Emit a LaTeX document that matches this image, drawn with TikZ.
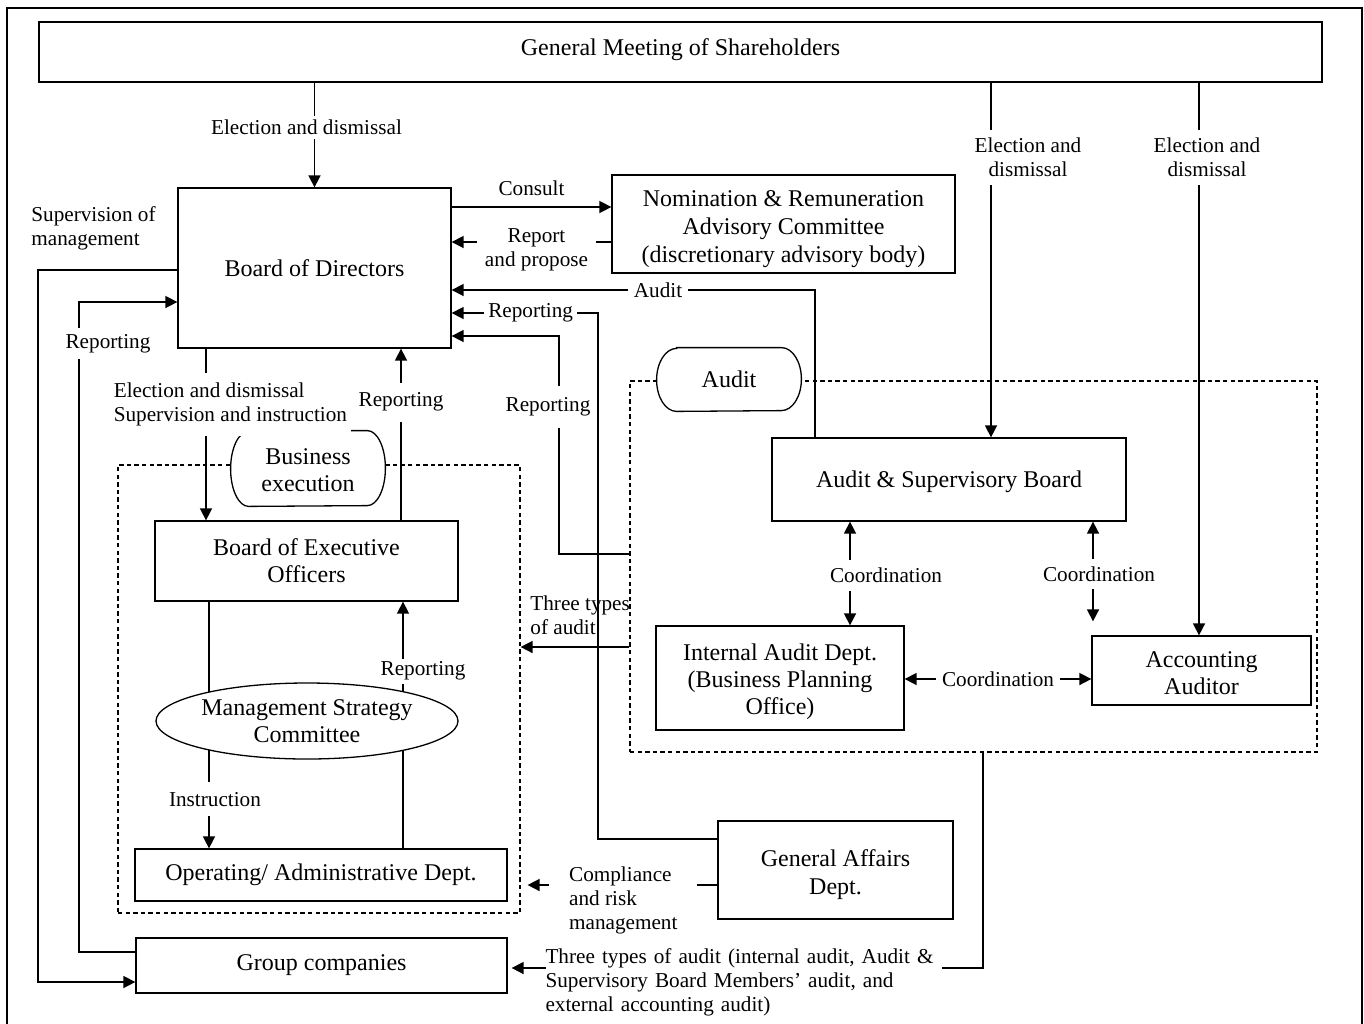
\documentclass[tikz,border=0pt]{standalone}
\usepackage{fontspec}
\setmainfont{Liberation Serif}
\usetikzlibrary{arrows.meta,shapes.geometric,calc}
\newcommand\bxfont{\fontsize{12}{13.5}\selectfont}
\newcommand\lbfont{\fontsize{10.6}{12}\selectfont}
\begin{document}
\begin{tikzpicture}[x=0.5pt,y=-0.5pt,
  box/.style={draw, line width=0.65pt, align=center, inner sep=0pt, font=\bxfont},
  arr/.style={line width=0.8pt, -{Triangle[length=6pt,width=6pt]}},
  darr/.style={line width=0.8pt, {Triangle[length=6pt,width=6pt]}-{Triangle[length=6pt,width=6pt]}},
  ln/.style={line width=0.8pt},
  lab/.style={fill=white, align=center, inner xsep=2pt, inner ysep=3pt, font=\lbfont},
  txt/.style={align=left, inner sep=0pt, font=\lbfont},
  dbox/.style={draw, line width=0.6pt, dash pattern=on 2.2pt off 1.6pt, inner sep=0pt},
  tag/.style={fill=white, font=\bxfont, align=center, inner sep=0pt},
]
\useasboundingbox (0,0) rectangle (1364,1023);
\draw[line width=0.8pt] (7,1030) -- (7,8) -- (1362,8) -- (1362,1030);

% dashed areas
\node[dbox, minimum width=201pt, minimum height=224pt] (busarea) at (319,689) {};
\node[dbox, minimum width=343.5pt, minimum height=185.5pt] (audarea) at (973.5,566.5) {};

% tags
\node[tag, minimum width=77pt, minimum height=37.5pt] (be) at (308,468.5) {};
\draw[line width=0.65pt] ([xshift=9pt]be.north west) -- ([xshift=-9pt]be.north east)
  arc[start angle=90,end angle=-90,x radius=9pt,y radius=18.75pt]
  -- ([xshift=9pt]be.south west)
  arc[start angle=270,end angle=90,x radius=9pt,y radius=18.75pt] -- cycle;
\node[font=\bxfont, align=center, inner sep=0pt] at ([yshift=-1pt]be.center) {Business\\execution};

\node[tag, minimum width=72pt, minimum height=31.5pt] (audtag) at (729,379.5) {};
\draw[line width=0.65pt] ([xshift=10pt]audtag.north west) -- ([xshift=-10pt]audtag.north east)
  arc[start angle=90,end angle=-90,x radius=10pt,y radius=15.75pt]
  -- ([xshift=10pt]audtag.south west)
  arc[start angle=270,end angle=90,x radius=10pt,y radius=15.75pt] -- cycle;
\node[font=\bxfont, inner sep=0pt] at (audtag) {Audit};

% boxes
\node[box, minimum width=641.5pt, minimum height=30pt] (gm) at (680.5,52) {\raisebox{1pt}[\height][\depth]{General Meeting of Shareholders}};
\node[box, minimum width=136.5pt, minimum height=80pt] (bod) at (314.5,268) {Board of Directors};
\node[box, minimum width=171.5pt, minimum height=49pt, font=\fontsize{12}{14}\selectfont] (nrac) at (783.5,224) {\rule{0pt}{13pt}Nomination \& Remuneration\\Advisory Committee\\(discretionary advisory body)};
\node[box, minimum width=177pt, minimum height=41.5pt] (asb) at (949,479.5) {\rule{0pt}{11pt}Audit \& Supervisory Board};
\node[box, minimum width=124pt, minimum height=52pt] (iad) at (780,678) {\rule{0pt}{12.5pt}Internal Audit Dept.\\(Business Planning\\Office)};
\node[box, minimum width=109.5pt, minimum height=34.5pt] (aa) at (1201.5,670.5) {\rule{0pt}{11pt}Accounting\\Auditor};
\node[box, minimum width=151.5pt, minimum height=40pt] (boeo) at (306.5,561) {Board of Executive\\Officers};
\node[box, ellipse, minimum width=151pt, minimum height=38pt] (msc) at (307,721) {Management Strategy\\Committee};
\node[box, minimum width=186pt, minimum height=26pt] (op) at (321,875) {Operating/ Administrative Dept.};
\node[box, minimum width=185.5pt, minimum height=27.5pt] (gc) at (321.5,965.5) {Group companies};
\node[box, minimum width=117.5pt, minimum height=49pt, font=\fontsize{12}{14}\selectfont] (ga) at (835.5,870) {\rule{0pt}{13.2pt}General Affairs\\Dept.};

% ellipse contact points
\coordinate (m1) at (209,692);
\coordinate (m2) at (209,750);
\coordinate (m3) at (403,692);
\coordinate (m4) at (403,750);

% connectors
\draw[arr] (bod.north |- gm.south) -- (bod.north)
  node[lab, pos=0.43, xshift=-4pt, inner ysep=2pt]{Election and dismissal};

\draw[arr] (bod.east |- 0,207) -- (nrac.west |- 0,207)
  node[midway, yshift=9.5pt, font=\lbfont, inner sep=0pt]{Consult};

\draw[arr] (nrac.west |- 0,242) -- (bod.east |- 0,242)
  node[lab, midway, xshift=2.5pt, yshift=-4pt, inner xsep=4pt, inner ysep=1pt]{Report\\and propose};

\draw[arr] (asb.north -| 815,0) |- (bod.east |- 0,290)
  node[lab, pos=0.716, inner xsep=3pt, inner ysep=1pt]{Audit};

\draw[arr] (ga.west |- 0,839) -| (598,313) -- (bod.east |- 0,313)
  node[lab, pos=0.46, inner ysep=1pt]{Reporting};

\draw[arr] (audarea.west |- 0,554) -| node[lab, pos=0.837, xshift=-5.5pt, inner ysep=6pt]{Reporting} (559,336) -- (bod.east |- 0,336);

\draw[arr] (bod.west |- 0,270) -| (38,982) -- (gc.west |- 0,982);
\node[txt, anchor=west] (supmg) at (31,228) {Supervision of\\management};

\draw[arr] (gc.west |- 0,952) -| node[lab, pos=0.968, xshift=14.5pt, inner ysep=3pt]{Reporting} (79,302) -- (bod.west |- 0,302);

\draw[arr] (bod.south -| 206,0) -- (boeo.north -| 206,0)
  node[lab, align=left, anchor=west, pos=0.324, xshift=-48.5pt, inner ysep=5pt]{Election and dismissal\\Supervision and instruction};

\draw[arr] (boeo.north -| 401,0) -- (bod.south -| 401,0)
  node[lab, pos=0.688, inner ysep=5pt]{Reporting};

\draw[ln] (boeo.south -| m1) -- (m1);
\draw[arr] (m2) -- (op.north -| m2)
  node[lab, midway, xshift=3pt, inner ysep=5pt]{Instruction};
\draw[ln] (op.north -| m4) -- (m4);
\draw[arr] (m3) -- (boeo.south -| m3)
  node[lab, pos=0.23, xshift=10pt, inner ysep=1.5pt]{Reporting};

\draw[darr] (asb.south -| 850,0) -- (iad.north -| 850,0)
  node[lab, pos=0.52, xshift=18pt, inner ysep=4pt]{Coordination};
\draw[darr, shorten >=7pt] (asb.south -| 1093,0) -- (aa.north -| 1093,0)
  node[lab, pos=0.46, xshift=3pt, inner ysep=4pt]{Coordination};
\draw[darr] (iad.east |- 0,679) -- (aa.west |- 0,679)
  node[lab, midway, inner xsep=3pt, inner ysep=1pt]{Coordination};

\draw[arr] (gm.south -| 991,0) -- (asb.north -| 991,0)
  node[lab, pos=0.21, xshift=18.5pt, inner ysep=4pt]{Election and\\dismissal};
\draw[arr] (gm.south -| 1199,0) -- (aa.north -| 1199,0)
  node[lab, pos=0.135, xshift=4pt, inner ysep=4pt]{Election and\\dismissal};

\draw[arr] (audarea.west |- 0,647) -- (busarea.east |- 0,647)
  node[txt, pos=1, anchor=south west, xshift=4.5pt, yshift=6pt]{Three types\\of audit};

\draw[arr, shorten >=3.5pt] (ga.west |- 0,885) -- (busarea.east |- 0,885)
  node[lab, align=left, anchor=west, pos=0.859, yshift=-7.5pt, inner xsep=10pt, inner ysep=1pt]{Compliance\\and risk\\management};

\draw[arr, shorten >=2pt] (audarea.south -| 983,0) |- (gc.east |- 0,968)
  node[lab, align=left, anchor=west, pos=0.961, yshift=-7pt, text width=198pt, inner xsep=0pt, inner ysep=1pt]{Three types of audit (internal audit, Audit \&\\Supervisory Board Members’ audit, and\\external accounting audit)};
\end{tikzpicture}
\end{document}
